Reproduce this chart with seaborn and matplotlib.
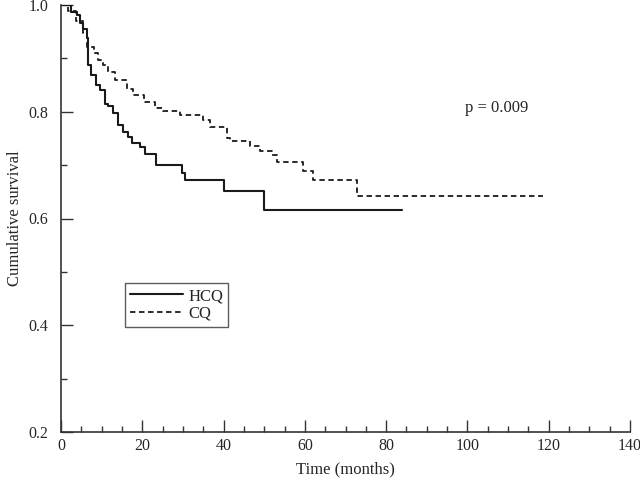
import pandas as pd
import matplotlib
matplotlib.use("Agg")
import matplotlib.pyplot as plt
from matplotlib.ticker import MultipleLocator, FormatStrFormatter
import seaborn as sns

# Kaplan-Meier steps (time in months, survival after the step)
hcq_time = [0, 2.5, 3.9, 4.7, 5.4, 6.4, 6.6, 7.3, 8.6, 9.6, 10.8, 11.6, 12.8, 14.1,
            15.3, 16.5, 17.5, 19.4, 20.7, 23.4, 29.7, 30.5, 40.0, 49.9, 84.0]
hcq_surv = [1.0, 0.987, 0.981, 0.966, 0.955, 0.938, 0.888, 0.869, 0.850, 0.841, 0.815,
            0.811, 0.798, 0.775, 0.762, 0.753, 0.741, 0.734, 0.721, 0.700, 0.685,
            0.672, 0.652, 0.616, 0.616]

cq_time = [0, 1.8, 3.7, 5.3, 6.4, 8.0, 9.2, 10.4, 11.6, 13.3, 16.2, 17.8, 20.3, 23.1,
           25.2, 29.3, 35.0, 36.7, 40.8, 41.6, 46.5, 49.0, 51.8, 53.1, 59.5, 61.9,
           72.8, 118.6]
cq_surv = [1.0, 0.989, 0.970, 0.947, 0.921, 0.910, 0.897, 0.888, 0.875, 0.860, 0.843,
           0.831, 0.818, 0.807, 0.801, 0.794, 0.785, 0.771, 0.751, 0.745, 0.736,
           0.727, 0.719, 0.706, 0.689, 0.673, 0.643, 0.643]

p_text = "p = 0.009"

hcq = pd.DataFrame({"time": hcq_time, "surv": hcq_surv})
cq = pd.DataFrame({"time": cq_time, "surv": cq_surv})

sns.set_style("ticks")
plt.rcParams["font.family"] = ["Liberation Serif", "DejaVu Serif"]
plt.rcParams["font.size"] = 11

fig = plt.figure(figsize=(6.4, 4.82), dpi=100)
ax = fig.add_axes([61 / 640, 1 - 432 / 482, 569 / 640, 427 / 482])

# survival curves
sns.lineplot(data=hcq, x="time", y="surv", ax=ax, drawstyle="steps-post",
             estimator=None, sort=False, color="#1a1a1a", linewidth=1.5,
             label="HCQ")
sns.lineplot(data=cq, x="time", y="surv", ax=ax, drawstyle="steps-post",
             estimator=None, sort=False, color="#1a1a1a", linewidth=1.3,
             linestyle=(0, (3, 2)), label="CQ")

ax.set_xlim(0, 140)
ax.set_ylim(0.2, 1.0)
ax.xaxis.set_major_locator(MultipleLocator(20))
ax.xaxis.set_minor_locator(MultipleLocator(5))
ax.yaxis.set_major_locator(MultipleLocator(0.2))
ax.yaxis.set_minor_locator(MultipleLocator(0.1))
ax.yaxis.set_major_formatter(FormatStrFormatter("%.1f"))

ax.tick_params(which="major", direction="in", length=8.5, width=1, color="#333333",
               labelsize=11.5)
ax.tick_params(which="minor", direction="in", length=4.3, width=1, color="#333333")
ax.tick_params(axis="y", which="major", pad=9)
ax.tick_params(axis="x", which="major", pad=4)

sns.despine(ax=ax)
for side in ["left", "bottom"]:
    ax.spines[side].set_linewidth(1.2)
    ax.spines[side].set_color("#333333")

ax.set_xlabel("Time (months)", fontsize=12, labelpad=6)
ax.set_ylabel("Cumulative survival", fontsize=12, labelpad=4)

ax.text(107.3, 0.807, p_text, fontsize=12, ha="center", va="center")

leg = ax.legend(loc="lower left", bbox_to_anchor=(0.112, 0.246), fancybox=False,
                frameon=True, edgecolor="#333333", fontsize=12, handlelength=3.2,
                handletextpad=0.3, borderpad=0.3, labelspacing=0.1,
                borderaxespad=0)
leg.get_frame().set_linewidth(1.0)

fig.savefig("out.png", dpi=100)
